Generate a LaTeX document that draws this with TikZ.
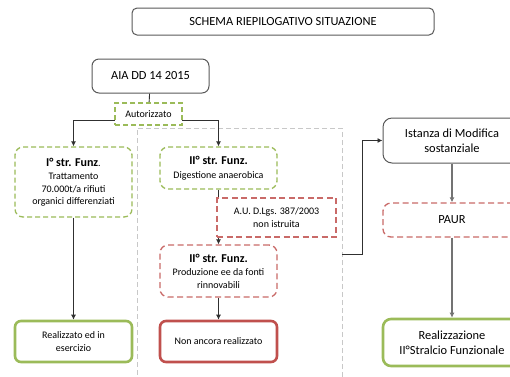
\documentclass[tikz,border=0pt]{standalone}
\usepackage{fontspec}
\setmainfont{Carlito}
\usetikzlibrary{arrows.meta, positioning, backgrounds}
\definecolor{okgreen}{HTML}{9BBB59}
\definecolor{kored}{HTML}{C0504D}
\definecolor{boxgray}{HTML}{595959}
\definecolor{zonegray}{HTML}{C8C8C8}
\definecolor{linegray}{HTML}{303030}

\tikzset{
    box/.style={align=center, fill=white, inner sep=0pt, line width=1pt,
        font=\fontsize{10}{12.5}\selectfont},
    plainbox/.style={box, draw=boxgray, rounded corners=5pt},
    greendash/.style={box, draw=okgreen, dashed, line width=1.3pt, dash pattern=on 5pt off 3pt},
    reddash/.style={box, draw=kored!85, dashed, line width=1.3pt, dash pattern=on 6pt off 3.5pt},
    greenok/.style={box, draw=okgreen, line width=2.6pt, rounded corners=6pt},
    redko/.style={box, draw=kored, line width=2.6pt, rounded corners=6pt},
    arr/.style={-{Latex[length=5pt,width=5pt]}, draw=linegray, line width=0.9pt},
    big/.style={font=\fontsize{12.4}{15}\selectfont}
}
\newcommand{\head}[1]{{\fontsize{12}{14}\selectfont\bfseries #1}}

\begin{document}
\begin{tikzpicture}[x=1pt, y=-1pt]
    \useasboundingbox (0,0) rectangle (510,376);
    \clip (0,0) rectangle (510,376);

    % title
    \node[plainbox, big, minimum width=302, minimum height=27] (title) at (283,21.5) {SCHEMA RIEPILOGATIVO SITUAZIONE};

    % left part
    \node[plainbox, big, minimum width=117, minimum height=34, rounded corners=7pt] (aia) at (150.5,76) {AIA DD 14 2015};
    \node[greendash, minimum width=67, minimum height=22] (auth) at (148.5,114) {Autorizzato};
    \coordinate (split) at (148.5,120.5);

    \node[greendash, rounded corners=8pt, minimum width=117, minimum height=70] (str1) at (73.5,182)
        {\head{I° str. Funz}.\\[1pt] Trattamento\\ 70.000t/a rifiuti\\ organici differenziati};
    \node[greendash, rounded corners=8pt, minimum width=117, minimum height=42] (str2) at (218.5,168)
        {\head{II° str. Funz.}\\[1pt] Digestione anaerobica};
    \node[reddash, minimum width=119, minimum height=39] (au) at (276.5,217.5)
        {A.U. D.Lgs. 387/2003\\ non istruita};
    \node[reddash, rounded corners=8pt, minimum width=117, minimum height=52] (prod) at (218.5,271)
        {\head{II° str. Funz.}\\[1pt] Produzione ee da fonti\\ rinnovabili};
    \node[greenok, minimum width=117, minimum height=41] (done) at (73.5,341.5) {Realizzato ed in\\ esercizio};
    \node[redko, minimum width=117, minimum height=41] (todo) at (218.5,341.5) {Non ancora realizzato};

    % right part
    \node[plainbox, big, rounded corners=9pt, minimum width=138, minimum height=45] (ist) at (452,140.5)
        {Istanza di Modifica\\ sostanziale};
    \node[reddash, big, rounded corners=8pt, minimum width=138, minimum height=34] (paur) at (452,220) {PAUR};
    \node[greenok, big, rounded corners=8pt, minimum width=138, minimum height=47] (real) at (452,342.5)
        {Realizzazione\\ II°Stralcio Funzionale};

    \begin{scope}[on background layer]
        \node[draw=zonegray, dashed, line width=0.7pt, dash pattern=on 5pt off 3pt,
            minimum width=205, minimum height=252, inner sep=0pt] (zone) at (239.5,254) {};
        \draw[linegray, line width=0.9pt] (aia) -- (auth);
        \draw[arr] (split) -| (str1.north);
        \draw[arr] (split) -| (str2.north);
        \draw[arr] (str1) -- (done);
        \draw[arr] (str2) -- (prod);
        \draw[arr] (prod) -- (todo);
        \draw[arr] (zone.east) -- ++(20,0) |- (ist.west);
        \draw[arr, draw=gray!90!black, line width=1.2pt] (ist) -- (paur);
        \draw[arr, draw=gray!90!black, line width=1.2pt] (paur) -- (real);
    \end{scope}
\end{tikzpicture}
\end{document}
